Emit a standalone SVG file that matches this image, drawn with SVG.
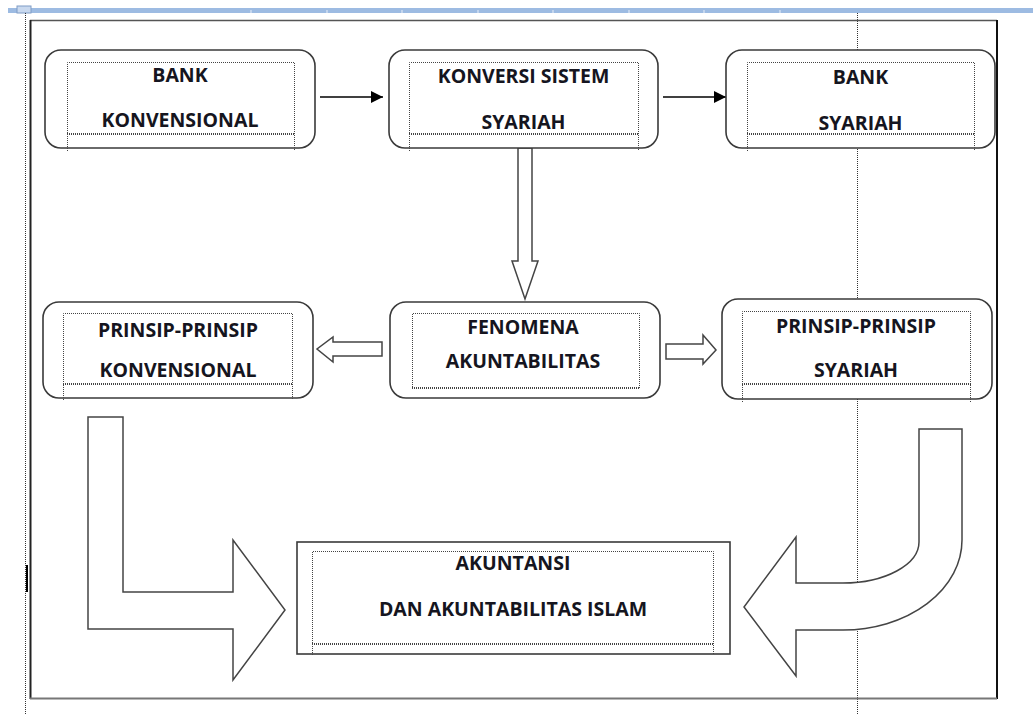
<svg xmlns="http://www.w3.org/2000/svg" width="1033" height="714" viewBox="0 0 1033 714">
<style>
.box{fill:#fff;stroke:#3a3a3a;stroke-width:1.6}
.dot{fill:none;stroke:#444;stroke-width:1;stroke-dasharray:1 1}
.dotb{fill:none;stroke:#444;stroke-width:2;stroke-dasharray:1 1}
.hol{fill:#fff;stroke:#444;stroke-width:1.5;stroke-linejoin:miter}
.ln{stroke:#000;stroke-width:1.3}
.t{font-family:"Open Sans","Noto Sans","Liberation Sans",sans-serif;font-weight:700;font-size:19.5px;fill:#151520;text-anchor:middle}
.guide{stroke:#333;stroke-width:1;stroke-dasharray:1 1}
</style>
<defs>
<marker id="ah" viewBox="0 0 10 10" refX="10" refY="5" markerWidth="12" markerHeight="12" markerUnits="userSpaceOnUse" orient="auto"><path d="M0,0 L10,5 L0,10 z" fill="#000"/></marker>
</defs>
<rect width="1033" height="714" fill="#fff"/>
<g id="ruler">
<rect x="8" y="8" width="1025" height="5" fill="#9dbbe2"/>
<rect x="17" y="6" width="14" height="7" fill="#c9d9ef" stroke="#7f9cc6" stroke-width="1"/>
<g stroke="#e8eef8" stroke-width="1">
<line x1="251" y1="10" x2="251" y2="13"/><line x1="327" y1="10" x2="327" y2="13"/><line x1="402" y1="10" x2="402" y2="13"/><line x1="478" y1="10" x2="478" y2="13"/><line x1="553" y1="10" x2="553" y2="13"/><line x1="629" y1="10" x2="629" y2="13"/><line x1="704" y1="10" x2="704" y2="13"/><line x1="780" y1="10" x2="780" y2="13"/>
</g>
</g>
<g id="frame">
<line class="guide" x1="25.5" y1="13" x2="25.5" y2="714"/>
<line class="guide" x1="857.5" y1="13" x2="857.5" y2="714"/>
<rect x="26" y="565" width="2" height="27" fill="#000"/>
<line x1="30" y1="20.5" x2="997" y2="20.5" stroke="#555" stroke-width="1.5"/>
<line x1="30.5" y1="20" x2="30.5" y2="699" stroke="#222" stroke-width="2"/>
<line x1="997" y1="20" x2="997" y2="699" stroke="#111" stroke-width="2"/>
<line x1="30" y1="698.5" x2="997" y2="698.5" stroke="#777" stroke-width="2"/>
</g>
<g id="connectors">
<line class="ln" x1="320" y1="97" x2="383" y2="97" marker-end="url(#ah)"/>
<line class="ln" x1="663" y1="97" x2="726" y2="97" marker-end="url(#ah)"/>
<path class="hol" d="M518,148 L532,148 L532,261 L538,261 L525,299 L512,261 L518,261 Z"/>
<path class="hol" d="M382,342 L382,356 L333,356 L333,362 L317,349 L333,337 L333,342 Z"/>
<path class="hol" d="M666,344 L703,344 L703,335 L716,350 L703,364 L703,359 L666,359 Z"/>
<path class="hol" d="M88,417 L123,417 L123,592 L233,592 L233,540 L285,610 L233,680 L233,629 L88,629 Z"/>
<path class="hol" d="M919,429 L962,429 L962,540 A119,90 0 0 1 843,630 L796,630 L796,676 L744,607 L796,537 L796,583 L843,583 A76,41 0 0 0 919,542 Z"/>
</g>
<g id="bank-konvensional">
<rect class="box" x="45" y="50" width="270" height="98" rx="16"/>
<path class="dot" d="M67.5,151 V62.5 H294.5 V151"/>
<line class="dotb" x1="67" y1="134" x2="295" y2="134"/>
<text class="t" x="180" y="82">BANK</text>
<text class="t" x="180" y="127">KONVENSIONAL</text>
</g>
<g id="konversi-sistem-syariah">
<rect class="box" x="389" y="50" width="269" height="98" rx="16"/>
<path class="dot" d="M409.5,151 V62.5 H638.5 V151"/>
<line class="dotb" x1="409" y1="134" x2="639" y2="134"/>
<text class="t" x="523.5" y="83">KONVERSI SISTEM</text>
<text class="t" x="523.5" y="129">SYARIAH</text>
</g>
<g id="bank-syariah">
<rect class="box" x="726" y="50" width="269" height="98" rx="16"/>
<path class="dot" d="M747.5,151 V62.5 H974.5 V151"/>
<line class="dotb" x1="747" y1="134" x2="975" y2="134"/>
<text class="t" x="860.5" y="84">BANK</text>
<text class="t" x="860.5" y="130">SYARIAH</text>
</g>
<g id="fenomena-akuntabilitas">
<rect class="box" x="390" y="302" width="270" height="96" rx="16"/>
<path class="dot" d="M412.5,389 V313.5 H639.5 V389"/>
<line class="dotb" x1="412" y1="388" x2="640" y2="388"/>
<text class="t" x="523" y="334">FENOMENA</text>
<text class="t" x="523" y="368">AKUNTABILITAS</text>
</g>
<g id="prinsip-konvensional">
<rect class="box" x="43" y="302" width="270" height="96" rx="16"/>
<path class="dot" d="M63.5,400 V313.5 H292.5 V400"/>
<line class="dotb" x1="63" y1="384" x2="293" y2="384"/>
<text class="t" x="178" y="337">PRINSIP-PRINSIP</text>
<text class="t" x="178" y="377">KONVENSIONAL</text>
</g>
<g id="prinsip-syariah">
<rect class="box" x="722" y="299" width="270" height="100" rx="16"/>
<path class="dot" d="M742.5,402 V311.5 H970.5 V402"/>
<line class="dotb" x1="742" y1="384" x2="971" y2="384"/>
<text class="t" x="856" y="333">PRINSIP-PRINSIP</text>
<text class="t" x="856" y="377">SYARIAH</text>
</g>
<g id="akuntansi-islam">
<rect class="box" x="297" y="542" width="433" height="112"/>
<path class="dot" d="M312.5,655 V551.5 H713.5 V655"/>
<line class="dotb" x1="312" y1="644" x2="714" y2="644"/>
<text class="t" x="513" y="570">AKUNTANSI</text>
<text class="t" x="513" y="616">DAN AKUNTABILITAS ISLAM</text>
</g>
</svg>
